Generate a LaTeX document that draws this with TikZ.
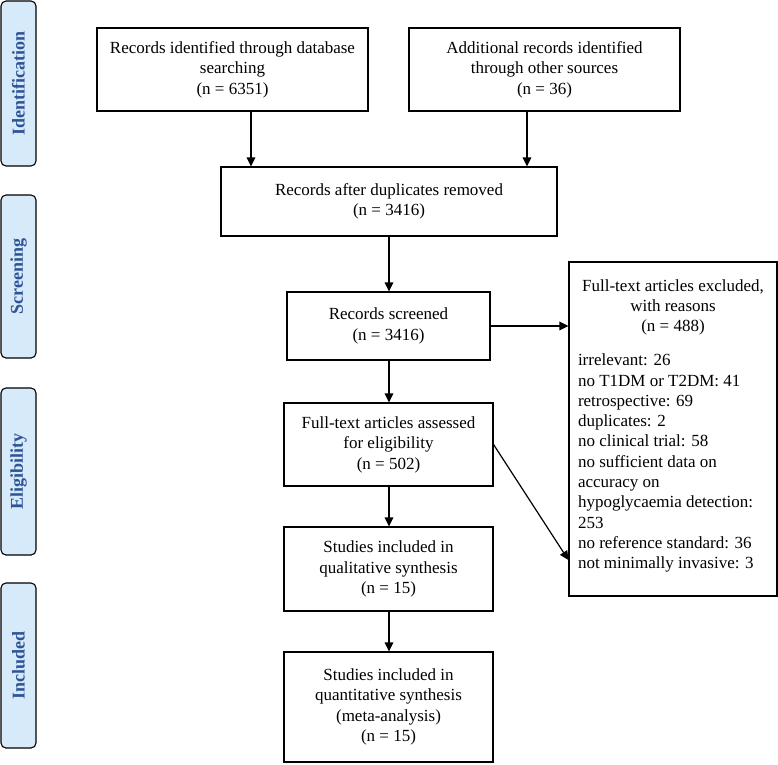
\documentclass[tikz,border=0pt]{standalone}
\usepackage{fontspec}
\setmainfont{Liberation Serif}
\usetikzlibrary{arrows.meta}
\definecolor{lblfill}{RGB}{214,234,250}
\definecolor{lbltext}{RGB}{47,84,150}
\begin{document}
\begin{tikzpicture}[x=1pt,y=-1pt,
  box/.style={draw, line width=1.1pt, align=center, inner sep=0pt,
    font=\fontsize{17}{20.5}\selectfont},
  phase/.style={draw, line width=1.1pt, fill=lblfill, rounded corners=5pt,
    rotate=90, minimum height=35pt, inner sep=0pt, text=lbltext,
    font=\fontsize{18}{20}\selectfont\bfseries},
  arr/.style={line width=1.2pt, -{Triangle[length=9pt,width=8.5pt]}}
]
\useasboundingbox (0,0) rectangle (778,764);

% phase labels
\node[phase, minimum width=165pt] (L1) at (18.5,83.5) {Identification};
\node[phase, minimum width=163pt] (L2) at (18.5,276.5) {Screening};
\node[phase, minimum width=167pt] (L3) at (18.5,471.5) {Eligibility};
\node[phase, minimum width=165pt] (L4) at (18.5,665.5) {Included};

% boxes
\node[box, minimum width=271pt, minimum height=83pt] (b1) at (232.5,69.5)
  {Records identified through database\\searching\\(n = 6351)};
\node[box, minimum width=271pt, minimum height=83pt] (b2) at (544.5,69.5)
  {Additional records identified\\through other sources\\(n = 36)};
\node[box, minimum width=336pt, minimum height=69pt] (b3) at (389,201.5)
  {Records after duplicates removed\\(n = 3416)};
\node[box, minimum width=203pt, minimum height=68pt] (b4) at (388.5,326)
  {Records screened\\(n = 3416)};
\node[box, minimum width=209pt, minimum height=83pt] (b5) at (388.5,444.5)
  {Full-text articles assessed\\for eligibility\\(n = 502)};
\node[box, minimum width=209pt, minimum height=84pt] (b6) at (388.5,569)
  {Studies included in\\qualitative synthesis\\(n = 15)};
\node[box, minimum width=209pt, minimum height=110pt] (b7) at (388.5,707)
  {Studies included in\\quantitative synthesis\\(meta-analysis)\\(n = 15)};
\node[box, minimum width=208pt, minimum height=334pt] (r) at (673,429)
  {\begin{minipage}{190pt}\fontsize{17}{20.3}\selectfont\centering
   Full-text articles excluded,\\with reasons\\(n = 488)\par\vspace{13.5pt}
   \raggedright
   irrelevant: 26\\
   no T1DM or T2DM: 41\\
   retrospective: 69\\
   duplicates: 2\\
   no clinical trial: 58\\
   no sufficient data on\\
   accuracy on\\
   hypoglycaemia detection:\\
   253\\
   no reference standard: 36\\
   not minimally invasive: 3\par\vspace{6pt}
   \end{minipage}};

% helper coordinates
\coordinate (c1) at (251,0);
\coordinate (c2) at (527,0);
\coordinate (c3) at (389,0);
\coordinate (h1) at (0,326);
\coordinate (d1) at (0,560);

% connectors
\draw[arr] (b1.south -| c1) -- (b3.north -| c1);
\draw[arr] (b2.south -| c2) -- (b3.north -| c2);
\draw[arr] (b3.south -| c3) -- (b4.north -| c3);
\draw[arr] (b4.south -| c3) -- (b5.north -| c3);
\draw[arr] (b5.south -| c3) -- (b6.north -| c3);
\draw[arr] (b6.south -| c3) -- (b7.north -| c3);
\draw[arr] (b4.east |- h1) -- (r.west |- h1);
\draw[arr] (b5.east) -- (r.west |- d1);
\end{tikzpicture}
\end{document}
